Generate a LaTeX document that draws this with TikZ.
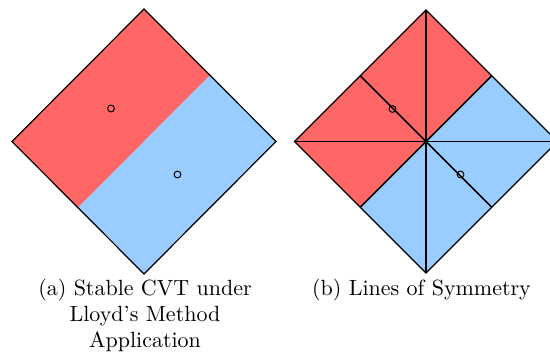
\documentclass[tikz,border=0pt]{standalone}
\usepackage{fontspec}
\setmainfont{Latin Modern Roman}
\definecolor{cellred}{RGB}{255,102,102}
\definecolor{cellblue}{RGB}{153,204,255}
\begin{document}
\begin{tikzpicture}[x=0.5pt,y=-0.5pt,
  outline/.style={draw=black,line width=0.6pt,line join=miter},
  symline/.style={draw=black,line width=0.8pt},
  gen/.style={draw=black,line width=0.5pt},
  captext/.style={anchor=base,inner sep=0pt,font=\fontsize{11}{13}\selectfont}]
\useasboundingbox (0,0) rectangle (550,352);
% ---- (a)
\coordinate (aT) at (144,9);
\coordinate (aL) at (12,141.5);
\coordinate (aR) at (276,141.5);
\coordinate (aB) at (144,274);
\coordinate (aTR) at (210,75.25);
\coordinate (aBL) at (78,207.75);
\fill[cellred] (aT) -- (aL) -- (aBL) -- (aTR) -- cycle;
\fill[cellblue] (aTR) -- (aR) -- (aB) -- (aBL) -- cycle;
\draw[outline] (aT) -- (aR) -- (aB) -- (aL) -- cycle;
\coordinate (ag1) at (111,108.5);
\coordinate (ag2) at (177.5,174.5);
\draw[gen] (ag1) circle[radius=1.7pt];
\draw[gen] (ag2) circle[radius=1.7pt];
% ---- (b)
\coordinate (bC) at (426,141.5);
\coordinate (bT) at (426,10);
\coordinate (bL) at (294.5,141.5);
\coordinate (bR) at (557.5,141.5);
\coordinate (bB) at (426,273);
\coordinate (bTR) at (491.75,75.75);
\coordinate (bBL) at (360.25,207.25);
\coordinate (bTL) at (360.25,75.75);
\coordinate (bBR) at (491.75,207.25);
\fill[cellred] (bT) -- (bL) -- (bBL) -- (bTR) -- cycle;
\fill[cellblue] (bTR) -- (bR) -- (bB) -- (bBL) -- cycle;
\draw[symline,line width=1pt] (bT) -- (bB);
\draw[symline] (bL) -- (bR);
\draw[symline] (bTL) -- (bBR);
\draw[symline] (bTR) -- (bBL);
\draw[outline] (bT) -- (bR) -- (bB) -- (bL) -- cycle;
\coordinate (bg1) at (392.5,109);
\coordinate (bg2) at (460.5,174.5);
\draw[gen] (bg1) circle[radius=1.7pt];
\draw[gen] (bg2) circle[radius=1.7pt];
% ---- captions
\node[captext] (capa1) at (145,295) {(a) Stable CVT under};
\node[captext] (capa2) at (145,321) {Lloyd’s Method};
\node[captext] (capa3) at (145,347) {Application};
\node[captext] (capb) at (421.5,295) {(b) Lines of Symmetry};
\end{tikzpicture}
\end{document}
